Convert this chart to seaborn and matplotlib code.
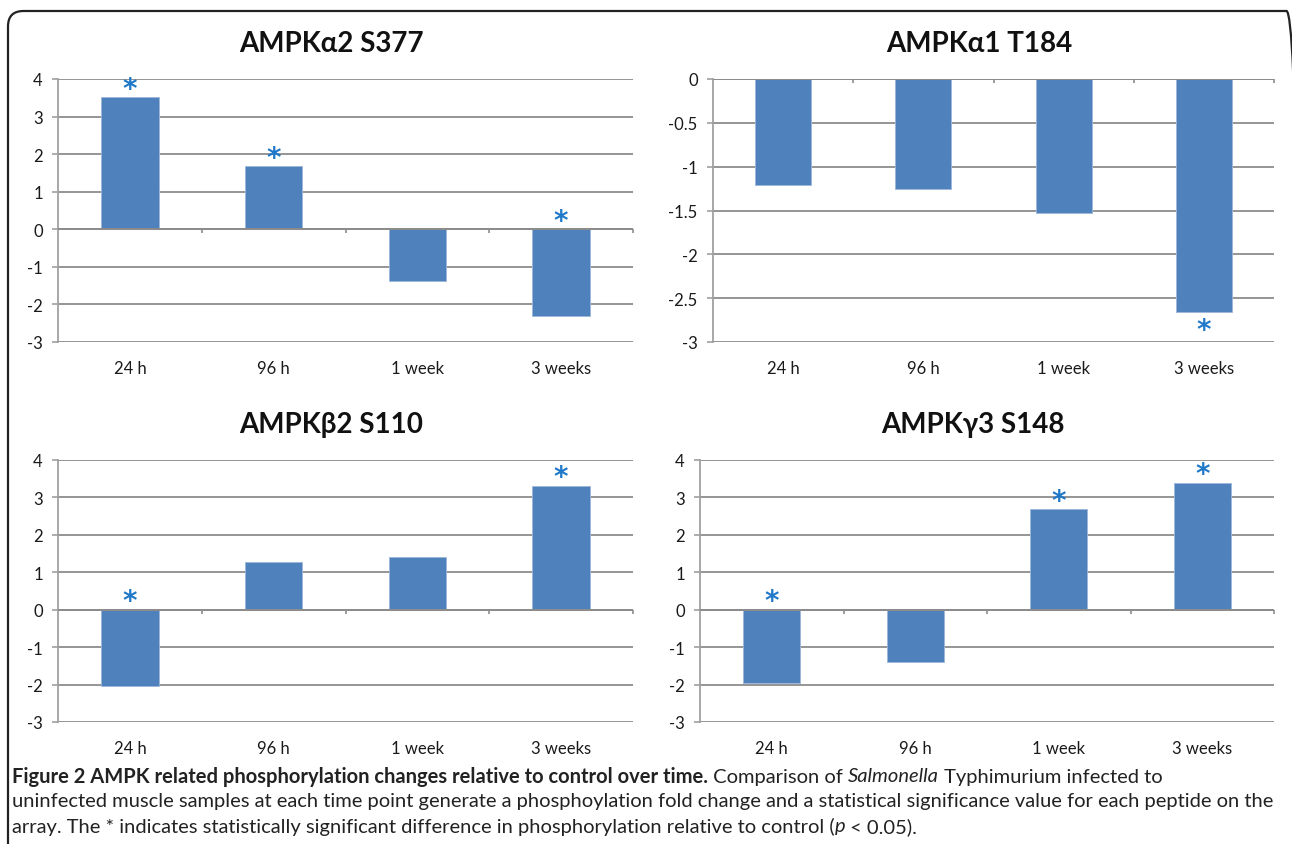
import matplotlib
matplotlib.use("Agg")
import matplotlib.pyplot as plt
import seaborn as sns
import pandas as pd
from matplotlib import font_manager
from matplotlib.patches import FancyBboxPatch

# ---------------- data ----------------
timepoints = ["24 h", "96 h", "1 week", "3 weeks"]
titles = ["AMPKα2 S377", "AMPKα1 T184", "AMPKβ2 S110", "AMPKγ3 S148"]
a2_s377 = [3.51, 1.68, -1.37, -2.32]
a1_t184 = [-1.21, -1.26, -1.53, -2.66]
b2_s110 = [-2.03, 1.28, 1.41, 3.31]
g3_s148 = [-1.95, -1.40, 2.68, 3.39]
sig_a2_s377 = [True, True, False, True]
sig_a1_t184 = [False, False, False, True]
sig_b2_s110 = [True, False, False, True]
sig_g3_s148 = [True, False, True, True]
yticks_full = [4, 3, 2, 1, 0, -1, -2, -3]
yticks_neg = [0, -0.5, -1, -1.5, -2, -2.5, -3]
ylabels_neg = ["0", "-0.5", "-1", "-1.5", "-2", "-2.5", "-3"]

caption_bold = "Figure 2 AMPK related phosphorylation changes relative to control over time."
caption_l1 = [(caption_bold, "bold"), (" Comparison of ", "normal"), ("Salmonella", "italic"),
              (" Typhimurium infected to", "normal")]
caption_l2 = [("uninfected muscle samples at each time point generate a phosphoylation fold change "
               "and a statistical significance value for each peptide on the", "normal")]
caption_l3 = [("array. The * indicates statistically significant difference in phosphorylation "
               "relative to control (", "normal"), ("p", "italic"), (" < 0.05).", "normal")]

# ---------------- style ----------------
sns.set_theme(style="white")
installed = {f.name for f in font_manager.fontManager.ttflist}
base_font = "Lato" if "Lato" in installed else "DejaVu Sans"
cap_font = "Liberation Sans Narrow" if "Liberation Sans Narrow" in installed else base_font
plt.rcParams["font.family"] = [base_font, "DejaVu Sans"]

BAR = "#4F81BD"
STAR = "#1F78C8"
GRID = "#8C8C8C"

W, H = 1292, 845
fig = plt.figure(figsize=(W / 100, H / 100), dpi=100)
fig.patch.set_facecolor("white")


def px_rect(l, t, r, b):
    return [l / W, 1 - b / H, (r - l) / W, (b - t) / H]


panels = [
    (titles[0], a2_s377, sig_a2_s377, px_rect(58, 80, 633, 343), "full"),
    (titles[1], a1_t184, sig_a1_t184, px_rect(713, 80, 1274, 343), "neg"),
    (titles[2], b2_s110, sig_b2_s110, px_rect(58, 461, 633, 723), "full"),
    (titles[3], g3_s148, sig_g3_s148, px_rect(700, 461, 1274, 723), "full"),
]

for title, vals, sig, rect, kind in panels:
    ax = fig.add_axes(rect)
    df = pd.DataFrame({"time": timepoints, "value": vals})
    sns.barplot(data=df, x="time", y="value", color=BAR, width=0.40,
                saturation=1, edgecolor="#9DB7DA", linewidth=0.6, ax=ax, zorder=3)
    if kind == "full":
        ax.set_ylim(-3, 4)
        ax.set_yticks(yticks_full)
        ax.set_yticklabels([str(v) for v in yticks_full])
    else:
        ax.set_ylim(-3, 0)
        ax.set_yticks(yticks_neg)
        ax.set_yticklabels(ylabels_neg)
    ax.set_xlim(-0.5, len(timepoints) - 0.5)
    ax.grid(axis="y", color=GRID, linewidth=1.3, zorder=0)
    ax.grid(axis="x", visible=False)
    for s in ["top", "right", "bottom"]:
        ax.spines[s].set_visible(False)
    ax.spines["left"].set_color("#A0A0A0")
    ax.spines["left"].set_linewidth(1.3)
    ax.tick_params(axis="y", which="major", left=True, length=4, width=1.2,
                   color="#A0A0A0", pad=7, labelsize=12, labelcolor="#1a1a1a")
    ax.tick_params(axis="x", length=0, pad=13, labelsize=12, labelcolor="#1a1a1a")
    ax.set_xlabel("")
    ax.set_ylabel("")
    # category axis at zero with boundary tick marks
    ax.axhline(0, color="#8C8C8C", linewidth=1.4, zorder=4)
    bounds = [i + 0.5 for i in range(len(timepoints))]
    ax.vlines(bounds, 0, -0.11 if kind == "full" else -0.05, color="#8C8C8C",
              linewidth=1.2, zorder=4, clip_on=False)
    ax.set_title(title, fontsize=20, fontweight="bold", pad=20, x=0.475, color="#111111")
    # significance stars
    below = max(vals) <= 0
    for i, (v, s) in enumerate(zip(vals, sig)):
        if not s:
            continue
        if below:
            ax.annotate("*", xy=(i, v), xytext=(0, -2.5), textcoords="offset points",
                        ha="center", va="top", fontsize=20, color=STAR,
                        fontweight="bold", family="DejaVu Sans", zorder=5)
        else:
            ax.annotate("*", xy=(i, max(v, 0)), xytext=(0, -4), textcoords="offset points",
                        ha="center", va="bottom", fontsize=20, color=STAR,
                        fontweight="bold", family="DejaVu Sans", zorder=5)

# ---------------- caption ----------------
renderer = fig.canvas.get_renderer()


def draw_line(pieces, x0, y0, size):
    x = x0
    for txt, style in pieces:
        weight = "bold" if style == "bold" else "normal"
        fstyle = "italic" if style == "italic" else "normal"
        t = fig.text(x / W, 1 - y0 / H, txt, fontsize=size, fontweight=weight,
                     fontstyle=fstyle, family=[cap_font, "DejaVu Sans"],
                     ha="left", va="center", color="#222222")
        bb = t.get_window_extent(renderer=renderer)
        x += bb.width
    return x


# fit the font size so the full second line spans the page width
probe = fig.text(0, 0, caption_l2[0][0], fontsize=12, family=[cap_font, "DejaVu Sans"])
wid = probe.get_window_extent(renderer=renderer).width
probe.remove()
cap_size = min(16, 12 * (1276 - 12) / wid)

draw_line(caption_l1, 12, 777, cap_size)
draw_line(caption_l2, 12, 802, cap_size)
draw_line(caption_l3, 12, 827, cap_size)

# ---------------- frame ----------------
frame = FancyBboxPatch((8 / W, -0.2), (1302 - 8) / W, (1 - 12 / H) + 0.2,
                       boxstyle="round,pad=0,rounding_size=0.012",
                       transform=fig.transFigure, fill=False, edgecolor="#222222",
                       linewidth=1.6, clip_on=False, mutation_aspect=W / H)
fig.add_artist(frame)

fig.savefig("out.png", dpi=100, facecolor="white")
